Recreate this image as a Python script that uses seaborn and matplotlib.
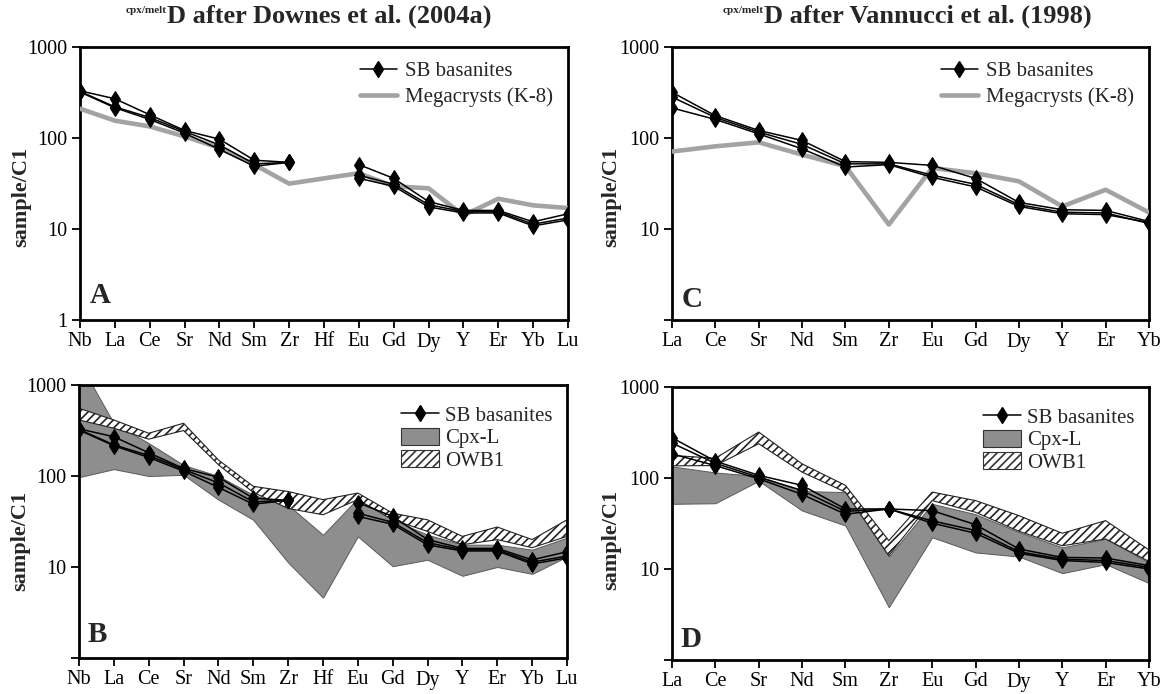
import numpy as np
import pandas as pd
import matplotlib
matplotlib.use("Agg")
import matplotlib.pyplot as plt
from matplotlib.lines import Line2D
from matplotlib.patches import Patch
from matplotlib.ticker import NullLocator, FixedLocator, FixedFormatter
import seaborn as sns

# ---------------- data ----------------
elems_AB = ['Nb', 'La', 'Ce', 'Sr', 'Nd', 'Sm', 'Zr', 'Hf', 'Eu', 'Gd', 'Dy', 'Y', 'Er', 'Yb', 'Lu']
elems_CD = ['La', 'Ce', 'Sr', 'Nd', 'Sm', 'Zr', 'Eu', 'Gd', 'Dy', 'Y', 'Er', 'Yb']

# SB basanites (cpx calculated melts), Downes et al. D (panels A, B)
sb_AB_1 = [330, 270, 180, 121, 97, 57, 54, np.nan, 51, 36, 20, 16, 16, 12.0, 14.7]
sb_AB_2 = [320, 215, 160, 113, 75, 49, 54, np.nan, 36, 29.5, 17.5, 15, 15, 10.8, 12.6]
sb_AB_3 = [325, 220, 168, 118, 84, 52, 54, np.nan, 39, 31, 18.5, 15.5, 15.5, 11.3, 13.2]

# Megacrysts (K-8), panel A
mega_A = [210, 155, 134, 104, 78, 51, 31.5, 36, 41, 29.5, 28, 14.1, 21.5, 18.2, 17]

# Panel B envelopes
cpxL_B_low = [97, 119, 100, 103, 55, 33, 11.2, 4.6, 21.7, 10.2, 12, 8.0, 10, 8.4, 13]
cpxL_B_high = [1800, 380, 230, 132, 100, 62, 48, 22.6, 57, 33, 22.6, 17.6, 17.6, 15.5, 21]
owb1_B_low = [413, 335, 254, 316, 133, 66, 44, 37.5, 55, 33, 24.6, 17.6, 20, 16.3, 21.7]
owb1_B_high = [555, 413, 295, 380, 150, 77, 67.5, 55, 65, 39, 33, 21.7, 27.5, 20, 33]

# SB basanites, Vannucci et al. D (panel C)
sb_C_1 = [318, 176, 121, 94, 55, 54, 50, 36, 19.6, 16.3, 16, 12.1]
sb_C_2 = [214, 160, 111, 76, 48, 51, 37, 29, 17.7, 14.7, 14.4, 11.8]
sb_C_3 = [282, 168, 116, 85, 52, 52, 39, 31, 18.5, 15.3, 15, 11.5]

# Megacrysts (K-8), panel C
mega_C = [71, 81, 89.6, 65.6, 49, 11.2, 46.8, 41, 33.4, 17.7, 27, 15.2]

# SB basanites, panel D
sb_D_1 = [277, 153, 107, 83, 45.7, 45.7, 43.8, 30.7, 16.6, 13.4, 13.2, 10.9]
sb_D_2 = [184, 137, 98, 66, 40, 45.7, 31.9, 24.7, 14.9, 12.4, 11.8, 10.0]
sb_D_3 = [242, 145, 102, 73, 43, 45.7, 33.8, 26.5, 15.5, 12.8, 12.4, 10.4]

# Panel D envelopes
cpxL_D_low = [52, 52.8, 93, 43.9, 30, 3.8, 22.3, 15.2, 13.7, 9.0, 11.3, 7.0]
cpxL_D_high = [134, 115, 105, 72, 70, 13.7, 52, 40, 25.4, 17.3, 21.4, 11.8]
owb1_D_low = [136, 137, 238, 116, 70, 14, 56.5, 42, 26, 18, 21.4, 12.1]
owb1_D_high = [177, 165, 320, 143, 83, 20.5, 70, 56.5, 38.6, 24.7, 34, 16.2]

titles = ['D after Downes et al. (2004a)', 'D after Vannucci et al. (1998)']
title_sup = 'cpx/melt'

# ---------------- style ----------------
sns.set_style('ticks')
plt.rcParams['font.family'] = ['Liberation Serif', 'DejaVu Serif']
plt.rcParams['hatch.linewidth'] = 1.2
plt.rcParams['hatch.color'] = 'black'

GREY_FILL = '#8e8e8e'
GREY_LINE = '#a3a3a3'

fig = plt.figure(figsize=(11.74, 6.94), dpi=100)
axA = fig.add_axes([80/1174, 1-320/694, 488/1174, 273/694])
axC = fig.add_axes([672/1174, 1-320/694, 477/1174, 273/694])
axB = fig.add_axes([79/1174, 1-658/694, 488/1174, 273/694])
axD = fig.add_axes([672/1174, 1-660/694, 477/1174, 273/694])


def sb_frame(elems, samples):
    rows = []
    for si, vals in enumerate(samples):
        seg = 0
        for i, v in enumerate(vals):
            if np.isnan(v):
                seg += 1
                continue
            rows.append({'x': i, 'v': v, 'unit': f's{si}_{seg}'})
    return pd.DataFrame(rows)


def draw_sb(ax, elems, samples):
    df = sb_frame(elems, samples)
    sns.lineplot(data=df, x='x', y='v', units='unit', estimator=None, sort=False,
                 color='black', lw=1.1, marker='d', markersize=8.5,
                 markeredgecolor='black', markerfacecolor='black',
                 legend=False, ax=ax, zorder=5)


def draw_mega(ax, elems, vals):
    sns.lineplot(x=np.arange(len(elems)), y=vals, color=GREY_LINE, lw=3.3,
                 legend=False, ax=ax, zorder=3)


def draw_bands(ax, elems, clo, chi, olo, ohi):
    x = np.arange(len(elems))
    ax.fill_between(x, clo, chi, facecolor=GREY_FILL, edgecolor='#5a5a5a', lw=0.7, zorder=1)
    ax.fill_between(x, olo, ohi, facecolor='white', edgecolor='#222222', lw=0.8,
                    hatch='////', zorder=2)


def style_axis(ax, elems, show_one):
    ax.set_yscale('log')
    ax.set_ylim(1, 1000)
    ax.set_xlim(0, len(elems) - 1)
    ax.yaxis.set_major_locator(FixedLocator([1, 10, 100, 1000]))
    ax.yaxis.set_major_formatter(FixedFormatter(['1' if show_one else '', '10', '100', '1000']))
    ax.yaxis.set_minor_locator(NullLocator())
    ax.set_xticks(np.arange(len(elems)))
    ax.set_xticklabels(elems)
    for s in ax.spines.values():
        s.set_visible(True)
        s.set_linewidth(2.0)
        s.set_color('black')
    ax.tick_params(axis='both', direction='out', length=6, width=1.3,
                   labelsize=14.5, colors='black', pad=3)
    ax.set_xlabel('')
    ax.set_ylabel('sample/C1', fontsize=16, fontweight='bold')


def panel_letter(ax, letter, x, y):
    ax.text(x, y, letter, transform=ax.transAxes, fontsize=21, fontweight='bold',
            ha='left', va='baseline', zorder=10)


def title(ax, text, xc):
    t = ax.text(xc, 1.09, text, transform=ax.transAxes, fontsize=19,
                fontweight='bold', ha='center', va='baseline')
    ax.annotate(title_sup, xy=(0, 0.93), xycoords=t, fontsize=8, fontweight='bold',
                ha='right', va='top')


# Panel A
draw_mega(axA, elems_AB, mega_A)
draw_sb(axA, elems_AB, [sb_AB_1, sb_AB_2, sb_AB_3])
style_axis(axA, elems_AB, True)
panel_letter(axA, 'A', 0.02, 0.062)
title(axA, titles[0], 0.51)
hA = [Line2D([], [], color='black', lw=1.1, marker='d', markersize=8.5),
      Line2D([], [], color=GREY_LINE, lw=3.3)]
axA.legend(hA, ['SB basanites', 'Megacrysts (K-8)'], loc='upper right',
           bbox_to_anchor=(1.0, 1.0), frameon=False, fontsize=15,
           handlelength=1.8, handletextpad=0.4, labelspacing=0.3, borderaxespad=0.3)

# Panel C
draw_mega(axC, elems_CD, mega_C)
draw_sb(axC, elems_CD, [sb_C_1, sb_C_2, sb_C_3])
style_axis(axC, elems_CD, False)
panel_letter(axC, 'C', 0.021, 0.048)
title(axC, titles[1], 0.536)
axC.legend(hA, ['SB basanites', 'Megacrysts (K-8)'], loc='upper right',
           bbox_to_anchor=(1.0, 1.0), frameon=False, fontsize=15,
           handlelength=1.8, handletextpad=0.4, labelspacing=0.3, borderaxespad=0.3)

# Panel B
draw_bands(axB, elems_AB, cpxL_B_low, cpxL_B_high, owb1_B_low, owb1_B_high)
draw_sb(axB, elems_AB, [sb_AB_1, sb_AB_2, sb_AB_3])
style_axis(axB, elems_AB, False)
panel_letter(axB, 'B', 0.018, 0.059)
hB = [Line2D([], [], color='black', lw=1.1, marker='d', markersize=8.5),
      Patch(facecolor=GREY_FILL, edgecolor='#333333', lw=0.8),
      Patch(facecolor='white', edgecolor='#333333', lw=0.8, hatch='////')]
for ax in (axB, axD):
    ax.legend(hB, ['SB basanites', 'Cpx-L', 'OWB1'], loc='upper right',
              bbox_to_anchor=(1.0, 0.98), frameon=False, fontsize=15,
              handlelength=1.8, handleheight=0.9, handletextpad=0.3,
              labelspacing=0.08, borderaxespad=0.3)

# Panel D
draw_bands(axD, elems_CD, cpxL_D_low, cpxL_D_high, owb1_D_low, owb1_D_high)
draw_sb(axD, elems_CD, [sb_D_1, sb_D_2, sb_D_3])
style_axis(axD, elems_CD, False)
panel_letter(axD, 'D', 0.017, 0.048)

axA.yaxis.set_label_coords(-0.1, 0.45)
axB.yaxis.set_label_coords(-0.1, 0.43)
axC.yaxis.set_label_coords(-0.107, 0.45)
axD.yaxis.set_label_coords(-0.107, 0.44)

fig.savefig('out.png', dpi=100, facecolor='white')
